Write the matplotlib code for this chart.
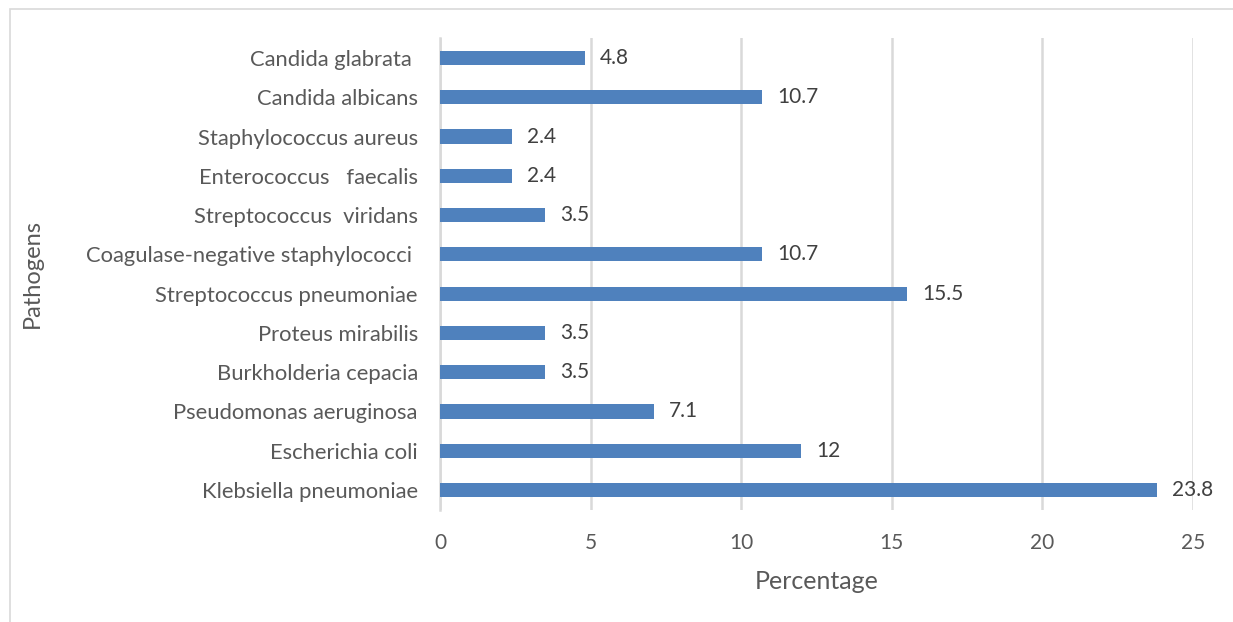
import matplotlib.pyplot as plt
from matplotlib.patches import Rectangle

pathogens = [
    "Klebsiella pneumoniae",
    "Escherichia coli",
    "Pseudomonas aeruginosa",
    "Burkholderia cepacia",
    "Proteus mirabilis",
    "Streptococcus pneumoniae",
    "Coagulase-negative staphylococci ",
    "Streptococcus  viridans",
    "Enterococcus   faecalis",
    "Staphylococcus aureus",
    "Candida albicans",
    "Candida glabrata ",
]
percentage = [23.8, 12, 7.1, 3.5, 3.5, 15.5, 10.7, 3.5, 2.4, 2.4, 10.7, 4.8]
xticks = [0, 5, 10, 15, 20, 25]

plt.rcParams['font.family'] = ['Lato', 'DejaVu Sans']
txt = '#595959'

fig = plt.figure(figsize=(12.33, 6.22), dpi=100)
ax = fig.add_axes([0.3569, 0.1807, 0.6107, 0.7576])

# chart frame
fig.patches.append(Rectangle((10/1233, -0.1), 1.2, 1 - 9/622 + 0.1,
                             transform=fig.transFigure, fill=False,
                             edgecolor='#d9d9d9', linewidth=1.2))

ypos = range(len(pathogens))
ax.barh(ypos, percentage, height=0.36, color='#4f81bd', zorder=3)
for y, v in zip(ypos, percentage):
    ax.text(v + 0.5, y, f"{v:g}", va='center', ha='left', fontsize=15, color='#404040')

ax.set_xlim(0, 25)
ax.set_ylim(-0.5, len(pathogens) - 0.5)
ax.set_xticks(xticks)
ax.set_yticks(list(ypos))
ax.set_yticklabels(pathogens)
ax.tick_params(axis='x', length=0, labelsize=15, labelcolor=txt, pad=17)
ax.tick_params(axis='y', length=0, labelsize=15.8, labelcolor=txt, pad=16)
ax.grid(axis='x', color='#d9d9d9', linewidth=1.8, zorder=0)
for s in ['top', 'right', 'bottom']:
    ax.spines[s].set_visible(False)
ax.spines['left'].set_color('#d9d9d9')
ax.spines['left'].set_linewidth(1.8)

ax.set_xlabel('Percentage', fontsize=18, color=txt, labelpad=12)
ax.set_ylabel('Pathogens', fontsize=17, color=txt)
ax.yaxis.set_label_coords(-0.528, 0.5)

fig.savefig('out.png', dpi=100)
